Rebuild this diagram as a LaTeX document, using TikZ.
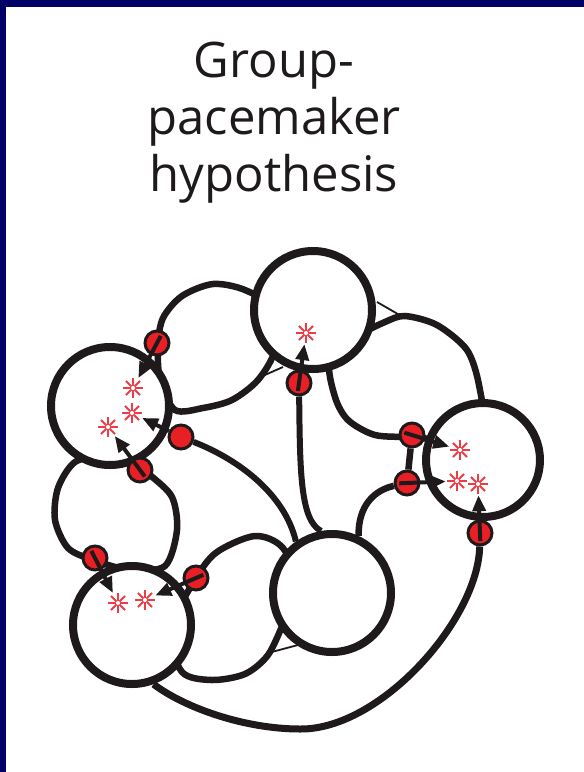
\documentclass[tikz,border=0pt]{standalone}
\usepackage{fontspec}
\setmainfont{Open Sans}
\usetikzlibrary{arrows.meta,backgrounds}

\definecolor{navy}{RGB}{0,0,102}
\definecolor{ink}{RGB}{30,26,27}
\definecolor{synred}{RGB}{232,32,38}
\definecolor{sparkred}{RGB}{238,60,70}

\begin{document}
\begin{tikzpicture}[x=1pt,y=-1pt,>={Triangle[length=16pt,width=13pt]}]
  \tikzstyle{cell}=[circle,draw=ink,line width=8pt,fill=white,
              minimum size=118pt,inner sep=0pt]
  \tikzstyle{synapse}=[circle,draw=ink,line width=3pt,fill=synred,
              minimum size=24pt,inner sep=0pt]
  \tikzstyle{spark}=[circle,minimum size=22pt,inner sep=0pt,
              path picture={\foreach \a in {0,45,...,315}
                \draw[sparkred,line width=1.8pt]
                  ([shift={(\a:2pt)}]path picture bounding box.center) --
                  ([shift={(\a:10pt)}]path picture bounding box.center);}]
  \tikzstyle{dendrite}=[draw=ink,line width=6.5pt]
  \tikzstyle{axon}=[draw=ink,line width=6pt]
  \tikzstyle{web}=[draw=ink,line width=1.8pt]
  \tikzstyle{fire}=[->,draw=ink,line width=4pt]
  \tikzstyle{title}=[anchor=base,text=ink,font=\fontsize{49}{57}\selectfont]
  \useasboundingbox (0,0) rectangle (584,772);

  \node[title] (t1) at (274,77) {Group-};
  \node[title] (t2) at (274,134) {pacemaker};
  \node[title] (t3) at (274,191) {hypothesis};

  % cells
  \node[cell] (n1) at (110,406) {};
  \node[cell] (n2) at (313,310) {};
  \node[cell,minimum size=114pt] (n3) at (483,460) {};
  \node[cell] (n4) at (132,625) {};
  \node[cell] (n5) at (332,593) {};

  % synapses
  \node[synapse] (s1) at (157,343) {};
  \node[synapse] (s2) at (181,437) {};
  \node[synapse] (s3) at (140,470) {};
  \node[synapse] (s4) at (299,383) {};
  \node[synapse] (s5) at (412,435) {};
  \node[synapse] (s6) at (407,483) {};
  \node[synapse] (s7) at (480,533) {};
  \node[synapse] (s8) at (95,558) {};
  \node[synapse] (s9) at (196,578) {};

  % sparks
  \node[spark] (a1) at (133,388) {};
  \node[spark] (a2) at (132,413) {};
  \node[spark] (a3) at (108,427) {};
  \node[spark] (a4) at (306,333) {};
  \node[spark] (a5) at (460,450) {};
  \node[spark] (a6) at (457,481) {};
  \node[spark] (a7) at (478,484) {};
  \node[spark] (a8) at (118,603) {};
  \node[spark] (a9) at (145,600) {};

  \draw[fire,shorten <=-8pt] (s1.center) -- (a1);
  \draw[fire] (s2) -- (a2);
  \draw[fire,shorten <=-8pt] (s3.center) -- (a3);
  \draw[fire,shorten <=-8pt] (s4.center) -- (a4);
  \draw[fire,shorten <=-8pt] (s5.center) -- (a5);
  \draw[fire,shorten <=-8pt] (s6.center) -- (a6);
  \draw[fire,shorten <=-8pt] (s7.center) -- (a7);
  \draw[fire,shorten <=-8pt] (s8.center) -- (a8);
  \draw[fire,shorten <=-8pt] (s9.center) -- (a9);

  \begin{scope}[on background layer]
    \fill[white] (0,0) rectangle (584,772);
    \fill[navy] (0,0) rectangle (584,7);
    \fill[navy] (0,0) rectangle (6,772);

    % rings between neighbouring cells
    \draw[dendrite] plot[smooth cycle] coordinates {(158,345) (163,318)
      (182,296) (213,284) (245,290) (275,310) (275,350) (258,380)
      (232,400) (203,408) (175,410) (160,380)};
    \draw[dendrite] plot[smooth cycle] coordinates {(105,455) (75,462)
      (58,488) (55,520) (68,548) (93,560) (130,570) (165,566) (177,530)
      (172,497) (150,475) (125,455)};
    \draw[dendrite] plot[smooth cycle] coordinates {(196,578) (217,552)
      (255,536) (283,548) (300,590) (285,620) (268,655) (245,674)
      (212,680) (182,672) (170,630)};
    \draw[dendrite] plot[smooth cycle] coordinates {(360,335) (385,322)
      (405,316) (437,325) (467,350) (479,385) (480,420) (440,438)
      (412,437) (375,435) (348,420) (335,397) (330,360)};
    \draw[dendrite] (s5) -- (s6);
    \draw[dendrite] (s6) .. controls (375,490) and (358,505) .. (n5.65);
    \draw[dendrite,line width=7pt] (n4.-70) .. controls (185,708) and (245,729) .. (300,729)
      .. controls (380,730) and (478,620) .. (s7);

    % axons
    \draw[axon] (s4) .. controls (300,470) and (300,520) .. (n5.100);
    \draw[axon] (s2) .. controls (240,460) and (285,495) .. (n5.125);

    \draw[web] (377,302) -- (403,317);
    \draw[web] (258,378) -- (283,367);
    \draw[web] (268,653) -- (298,645);
  \end{scope}
\end{tikzpicture}
\end{document}
